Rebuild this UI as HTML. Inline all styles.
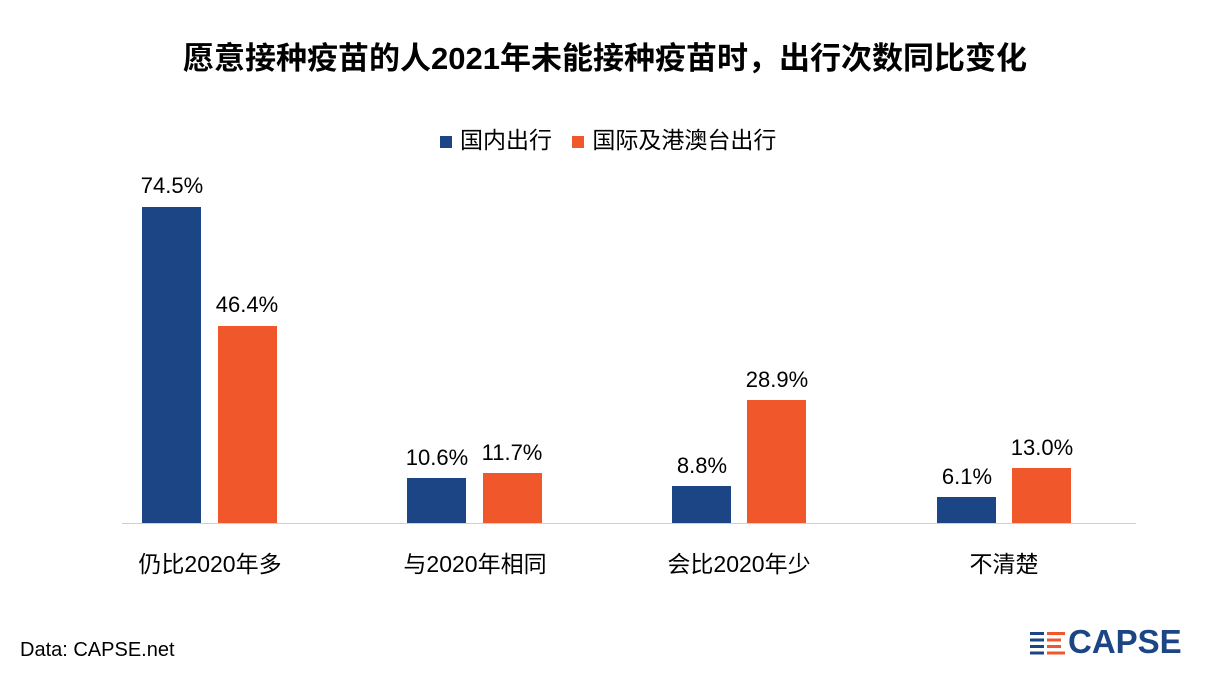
<!DOCTYPE html>
<html><head><meta charset="utf-8"><style>
body{margin:0;width:1210px;height:675px;background:#fff;position:relative;overflow:hidden;font-family:"Liberation Sans","Noto Sans CJK SC",sans-serif;color:#000}
.a{position:absolute}
.b{position:absolute;width:59px;bottom:152px}
.bl{background:#1b4584}.or{background:#f0582b}
.v{position:absolute;width:100px;text-align:center;font-size:22px}
.c{position:absolute;width:220px;text-align:center;font-size:23px;top:545px}
</style></head><body>
<div class="a" style="left:0;width:1210px;top:33px;text-align:center;font-size:31px;font-weight:bold">愿意接种疫苗的人2021年未能接种疫苗时，出行次数同比变化</div>
<div class="a" style="left:440px;top:121px;font-size:23px;white-space:nowrap"><span style="display:inline-block;width:12px;height:12px;background:#1b4584;margin-right:8px"></span>国内出行 <span style="display:inline-block;width:12px;height:12px;background:#f0582b;margin:0 8px 0 14px"></span>国际及港澳台出行</div>
<div class="a" style="left:122px;width:1014px;top:523px;height:1px;background:#d0d0d0"></div>

<div class="b bl" style="left:142px;height:316px"></div><div class="v" style="left:122px;top:173px">74.5%</div>
<div class="b or" style="left:218px;height:197px"></div><div class="v" style="left:197px;top:292px">46.4%</div>
<div class="b bl" style="left:407px;height:45px"></div><div class="v" style="left:387px;top:445px">10.6%</div>
<div class="b or" style="left:483px;height:50px"></div><div class="v" style="left:462px;top:440px">11.7%</div>
<div class="b bl" style="left:672px;height:37px"></div><div class="v" style="left:652px;top:453px">8.8%</div>
<div class="b or" style="left:747px;height:123px"></div><div class="v" style="left:727px;top:367px">28.9%</div>
<div class="b bl" style="left:937px;height:26px"></div><div class="v" style="left:917px;top:464px">6.1%</div>
<div class="b or" style="left:1012px;height:55px"></div><div class="v" style="left:992px;top:435px">13.0%</div>

<div class="c" style="left:100px">仍比2020年多</div>
<div class="c" style="left:365px">与2020年相同</div>
<div class="c" style="left:629px">会比2020年少</div>
<div class="c" style="left:894px">不清楚</div>

<div class="a" style="left:20px;top:639px;font-size:20px">Data: CAPSE.net</div>
<svg class="a" style="left:1030px;top:630px" width="36" height="26">
<rect x="0" y="2" width="14" height="3" fill="#1b4584"/><rect x="17" y="2" width="18" height="3" fill="#f0582b"/>
<rect x="0" y="8.5" width="14" height="3" fill="#1b4584"/><rect x="17" y="8.5" width="14" height="3" fill="#f0582b"/>
<rect x="0" y="15" width="14" height="3" fill="#1b4584"/><rect x="17" y="15" width="14" height="3" fill="#f0582b"/>
<rect x="0" y="21.5" width="14" height="3" fill="#1b4584"/><rect x="17" y="21.5" width="18" height="3" fill="#f0582b"/>
</svg>
<div class="a" style="left:1068px;top:623px;font-size:33px;font-weight:bold;color:#1b4584;letter-spacing:0px">CAPSE</div>
</body></html>
